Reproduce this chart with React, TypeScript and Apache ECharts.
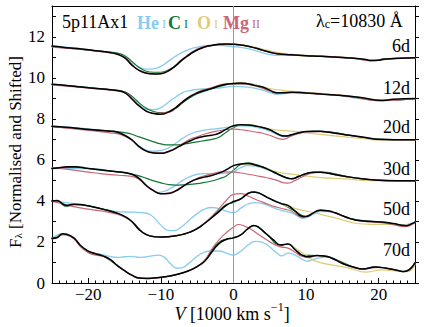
import { useEffect, useRef } from 'react';
import * as echarts from 'echarts';

// ---------- data (velocity in 1000 km/s, normalised & shifted flux) ----------
const epochLabels = ['6d', '12d', '20d', '30d', '50d', '70d'];
const speciesNames = ['He I', 'C I', 'O I', 'Mg II'];

// 6d
const full6 = [[-25,11.55],[-23,11.47],[-21,11.4],[-19,11.32],[-17,11.23],[-16,11.15],[-15,10.98],[-14,10.62],[-13,10.36],[-12,10.23],[-11,10.18],[-10,10.2],[-9,10.33],[-8,10.58],[-7,10.9],[-6,11.15],[-5,11.36],[-4,11.5],[-3,11.58],[-2,11.63],[-1,11.65],[0,11.63],[1,11.6],[2,11.54],[3,11.45],[4,11.35],[5,11.25],[6,11.17],[8,11.12],[10,11.08],[12,11.05],[14,11.01],[16,10.97],[18,10.9],[19,10.84],[20,10.86],[21,10.92],[23,10.95],[25,10.98]];
const he6 = [[-25,11.55],[-17,11.23],[-15,11.0],[-14,10.74],[-13,10.52],[-12,10.42],[-11,10.44],[-10,10.56],[-9,10.8],[-8,11.05],[-7,11.25],[-6,11.4],[-5,11.49],[-4,11.55],[-3,11.58],[-2,11.58],[-1,11.56],[0,11.52],[1,11.48],[2,11.42],[3,11.33],[4,11.22],[5,11.13],[6,11.1],[7,11.1],[8,11.11],[10,11.08],[14,11.01],[18,10.9],[19,10.84],[21,10.92],[25,10.98]];
const c6 = [[-25,11.52],[-17,11.25],[-16,11.2],[-15,11.08],[-14,10.8],[-13,10.5],[-12,10.32],[-11,10.27],[-10,10.27],[-9,10.38],[-8,10.58],[-7,10.88],[-6,11.13],[-5,11.35],[-4,11.5],[-2,11.62],[0,11.63],[2,11.54],[4,11.35],[6,11.18],[10,11.08],[16,10.97],[19,10.85],[21,10.92],[25,10.98]];
const o6 = [[-2,11.63],[0,11.64],[2,11.56],[4,11.4],[6,11.24],[8,11.14],[12,11.06],[16,10.98],[19,10.86],[22,10.94],[25,10.98]];
const mg6 = [[-25,11.5],[-17,11.22],[-15,10.97],[-13,10.36],[-11,10.19],[-9,10.35],[-7,10.92],[-5,11.4],[-3,11.6],[-1,11.66],[1,11.6],[3,11.45],[5,11.25],[7,11.14],[10,11.08],[16,10.97],[19,10.84],[22,10.93],[25,10.97]];

// 12d
const full12 = [[-25,9.69],[-23,9.63],[-21,9.55],[-19,9.48],[-17,9.42],[-16,9.38],[-15,9.28],[-14,8.97],[-13,8.63],[-12,8.38],[-11,8.26],[-10,8.22],[-9,8.33],[-8,8.54],[-7,8.83],[-6,9.08],[-5,9.26],[-4,9.38],[-3,9.48],[-2,9.6],[-1,9.69],[0,9.72],[1,9.75],[2,9.71],[3,9.62],[4,9.55],[5,9.4],[6,9.27],[7,9.27],[8,9.3],[10,9.26],[12,9.21],[14,9.16],[16,9.1],[18,9.02],[19.5,8.92],[20.5,8.9],[22,8.95],[25,8.99]];
const he12 = [[-25,9.69],[-17,9.42],[-15,9.3],[-14,9.02],[-13,8.7],[-12,8.48],[-11,8.45],[-10,8.55],[-9,8.8],[-8,9.05],[-7,9.28],[-6,9.38],[-5,9.43],[-4,9.46],[-2,9.5],[0,9.58],[2,9.55],[4,9.4],[5,9.28],[6,9.2],[7,9.23],[8,9.28],[10,9.26],[14,9.16],[20,8.9],[25,8.99]];
const c12 = [[-25,9.68],[-17,9.42],[-15,9.32],[-14,9.1],[-13,8.78],[-12,8.52],[-11,8.36],[-10,8.3],[-9,8.33],[-8,8.5],[-7,8.78],[-6,9.03],[-5,9.22],[-4,9.35],[-2,9.57],[0,9.7],[2,9.7],[4,9.54],[6,9.28],[8,9.3],[12,9.21],[16,9.1],[20,8.9],[25,8.99]];
const o12 = [[-1,9.69],[1,9.75],[3,9.64],[5,9.48],[7,9.38],[9,9.32],[12,9.24],[16,9.12],[20,8.92],[25,8.99]];
const mg12 = [[-25,9.66],[-21,9.53],[-17,9.4],[-15,9.28],[-13,8.64],[-11,8.27],[-9,8.32],[-7,8.85],[-5,9.3],[-3,9.52],[-1,9.7],[1,9.7],[3,9.6],[5,9.35],[6,9.25],[8,9.28],[12,9.2],[16,9.1],[20,8.88],[25,8.98]];

// 20d
const full20 = [[-25,7.64],[-23,7.59],[-21,7.52],[-19,7.46],[-17,7.4],[-16,7.35],[-15,7.2],[-14,6.98],[-13,6.65],[-12,6.43],[-11,6.34],[-10,6.32],[-9,6.4],[-8,6.55],[-7,6.75],[-6,6.92],[-5,7.07],[-4,7.15],[-3,7.2],[-2,7.3],[-1,7.5],[0,7.66],[1,7.71],[2,7.7],[3,7.65],[4,7.58],[5,7.47],[6,7.28],[7,7.16],[8,7.22],[9,7.32],[10,7.38],[11,7.4],[12,7.39],[14,7.3],[16,7.2],[18,7.1],[20,7.0],[22,6.98],[25,6.98]];
const he20 = [[-25,7.64],[-17,7.4],[-15,7.2],[-14,6.98],[-13,6.68],[-12,6.48],[-11,6.42],[-10,6.46],[-9,6.58],[-8,6.8],[-7,7.05],[-6,7.25],[-5,7.38],[-4,7.45],[-3,7.5],[-2,7.53],[-1,7.58],[0,7.63],[1,7.66],[2,7.65],[3,7.6],[4,7.52],[5,7.4],[6,7.24],[7,7.13],[8,7.2],[9,7.3],[10,7.38],[12,7.39],[16,7.2],[20,7.0],[25,6.98]];
const c20 = [[-25,7.62],[-17,7.4],[-16,7.38],[-15,7.33],[-14,7.25],[-13,7.12],[-12,7.0],[-11,6.88],[-10,6.78],[-9,6.73],[-8,6.73],[-7,6.76],[-6,6.82],[-5,6.88],[-4,6.94],[-3,7.0],[-2,7.1],[-1,7.35],[0,7.57],[1,7.7],[2,7.71],[3,7.66],[4,7.58],[5,7.47],[6,7.28],[7,7.17],[8,7.22],[10,7.38],[12,7.39],[16,7.2],[20,7.0],[25,6.98]];
const o20 = [[0,7.66],[2,7.7],[4,7.58],[5,7.5],[6,7.45],[8,7.4],[10,7.32],[12,7.24],[15,7.13],[18,7.03],[20,6.97],[25,6.97]];
const mg20 = [[-25,7.63],[-23,7.55],[-21,7.47],[-19,7.4],[-17,7.32],[-16,7.28],[-15,7.15],[-14,6.95],[-13,6.63],[-12,6.42],[-11,6.34],[-10,6.34],[-9,6.42],[-8,6.58],[-7,6.8],[-6,7.0],[-5,7.13],[-4,7.25],[-3,7.35],[-2,7.42],[-1,7.48],[0,7.5],[1,7.47],[2,7.42],[3,7.36],[4,7.3],[5,7.2],[6,7.06],[6.8,7.0],[8,7.17],[9,7.28],[10,7.36],[12,7.38],[14,7.29],[16,7.19],[18,7.09],[20,6.99],[25,6.98]];

// 30d
const full30 = [[-25,5.58],[-24,5.62],[-23,5.66],[-22,5.67],[-21,5.64],[-20,5.58],[-18,5.5],[-16,5.42],[-15,5.38],[-14,5.3],[-13,5.1],[-12,4.75],[-11,4.5],[-10,4.35],[-9,4.36],[-8,4.48],[-7,4.7],[-6,4.92],[-5,5.07],[-4,5.16],[-3,5.24],[-2,5.36],[-1,5.52],[0,5.72],[1,5.8],[2,5.82],[3,5.75],[4,5.65],[5,5.5],[6,5.33],[7,5.17],[8,5.08],[9,5.2],[10,5.33],[11,5.4],[12,5.4],[13,5.35],[14,5.28],[16,5.16],[18,5.07],[20,5.01],[22,4.98],[25,4.98]];
const he30 = [[-25,5.58],[-20,5.58],[-16,5.42],[-14,5.3],[-13,5.08],[-12,4.75],[-11,4.5],[-10.5,4.42],[-10,4.43],[-9,4.55],[-8,4.75],[-7,5.0],[-6,5.18],[-5,5.3],[-4,5.33],[-3,5.32],[-2,5.33],[-1,5.35],[0,5.42],[1,5.62],[2,5.72],[3,5.7],[4,5.6],[5,5.47],[6,5.3],[7,5.15],[8,5.08],[9,5.2],[10,5.33],[12,5.4],[16,5.16],[20,5.01],[25,4.98]];
const c30 = [[-25,5.57],[-22,5.65],[-20,5.58],[-16,5.42],[-14,5.31],[-13,5.22],[-12,5.1],[-11,4.98],[-10,4.88],[-9,4.8],[-8,4.77],[-7,4.78],[-6,4.81],[-5,4.84],[-4,4.9],[-3,4.97],[-2,5.08],[-1,5.22],[0,5.5],[1,5.78],[2,5.86],[3,5.78],[4,5.66],[5,5.5],[6,5.33],[7,5.17],[8,5.08],[10,5.33],[12,5.4],[16,5.16],[20,5.01],[25,4.98]];
const o30 = [[1,5.8],[3,5.75],[5,5.52],[6.5,5.38],[8.8,5.27],[11.6,5.15],[15.3,5.07],[19,4.99],[25,4.98]];
const mg30 = [[-25,5.64],[-23,5.55],[-21,5.45],[-19,5.36],[-17,5.28],[-15,5.23],[-14,5.2],[-13,5.05],[-12,4.72],[-11,4.48],[-10,4.35],[-9,4.38],[-8,4.5],[-7,4.72],[-6,4.92],[-5,5.1],[-4,5.22],[-3,5.32],[-2,5.4],[-1,5.42],[0,5.4],[1,5.36],[2,5.3],[3,5.24],[4,5.17],[5,5.1],[6,5.0],[7,4.88],[7.5,4.87],[8.5,5.0],[9.5,5.18],[10.5,5.33],[12,5.39],[14,5.28],[16,5.16],[18,5.07],[20,5.0],[25,4.97]];

// 50d
const full50 = [[-25,4.0],[-24.3,4.02],[-23.5,3.85],[-23,3.78],[-22,3.84],[-21,3.82],[-20,3.76],[-18,3.6],[-16,3.4],[-15,3.25],[-14,3.0],[-13,2.6],[-12,2.36],[-11,2.26],[-10,2.24],[-9,2.26],[-8,2.3],[-7,2.37],[-6,2.48],[-5,2.65],[-4,2.9],[-3,3.18],[-2,3.48],[-1,3.78],[0,3.97],[1,4.1],[2,4.36],[2.7,4.44],[3.5,4.38],[4.5,4.2],[5.5,4.02],[6.5,3.88],[7.5,3.78],[8.5,3.5],[9.3,3.27],[10,3.24],[11,3.42],[12,3.55],[13,3.52],[14,3.42],[15,3.28],[16,3.15],[17.5,3.03],[19,3.0],[20.5,2.97],[22,2.9],[23,2.83],[23.8,2.79],[24.5,2.88],[25,2.97]];
const he50 = [[-25,4.0],[-20,3.76],[-18,3.6],[-16,3.48],[-14,3.45],[-12,3.4],[-11,3.2],[-10,2.82],[-9,2.56],[-8.3,2.55],[-7,2.78],[-6,3.1],[-5,3.38],[-4,3.6],[-3,3.68],[-2,3.62],[-1,3.5],[0,3.43],[1,3.65],[2,3.85],[3,3.92],[4,3.87],[5,3.75],[6,3.6],[7,3.5],[8,3.42],[9,3.22],[9.5,3.15],[10,3.18],[11,3.35],[12,3.48],[13,3.48],[14,3.42],[16,3.14],[18,3.02],[20,2.99],[23,2.83],[25,2.97]];
const c50 = [[-25,4.03],[-24.3,4.0],[-23.5,3.8],[-23,3.74],[-22,3.82],[-20,3.76],[-18,3.6],[-16,3.4],[-14,3.0],[-12,2.36],[-10,2.24],[-8,2.3],[-6,2.48],[-4,2.9],[-3,3.2],[-2,3.52],[-1,3.82],[0,3.93],[1,4.1],[2,4.38],[3,4.43],[4.5,4.2],[6.5,3.88],[8.5,3.5],[10,3.24],[12,3.55],[14,3.42],[16,3.15],[19,3.0],[22,2.9],[23.8,2.79],[25,2.97]];
const o50 = [[7,3.78],[8.8,3.6],[11.6,3.38],[14.8,3.1],[17,2.9],[19,2.86],[22,2.86],[24,2.82],[25,2.95]];
const mg50 = [[-25,3.98],[-24,3.9],[-22,3.72],[-20,3.6],[-18,3.5],[-16,3.35],[-15,3.22],[-14,3.0],[-13,2.6],[-12,2.36],[-11,2.26],[-10,2.24],[-8,2.3],[-6,2.48],[-5,2.66],[-4,2.92],[-3,3.25],[-2,3.62],[-1,4.02],[0,4.32],[1,4.36],[2,4.24],[3,4.08],[4,3.94],[5,3.8],[6,3.69],[7,3.6],[8,3.5],[9,3.26],[9.5,3.19],[10.3,3.3],[11.2,3.46],[12,3.54],[14,3.42],[16,3.13],[18,3.0],[20,2.95],[22,2.84],[23.5,2.75],[25,2.95]];

// 70d
const full70 = [[-25,2.17],[-24.3,2.22],[-23.5,2.4],[-23,2.38],[-22,2.2],[-21,1.8],[-20,1.55],[-19,1.42],[-18,1.32],[-17,1.15],[-16,0.85],[-15,0.6],[-14,0.38],[-13,0.24],[-12,0.22],[-11,0.24],[-10,0.28],[-9,0.33],[-8,0.4],[-7,0.5],[-6,0.62],[-5,0.8],[-4,1.05],[-3,1.5],[-2,1.92],[-1,2.12],[0,2.2],[1,2.35],[2,2.65],[2.8,2.8],[3.5,2.7],[4.5,2.4],[5.5,2.1],[6.5,1.85],[7.5,1.9],[8.5,1.62],[9.5,1.35],[10.3,1.28],[11.5,1.34],[12.5,1.32],[13.5,1.22],[15,0.95],[16.5,0.78],[17.8,0.68],[19.5,0.78],[21,0.72],[22.5,0.62],[23.5,0.56],[24.3,0.68],[25,0.98]];
const he70 = [[-25,2.17],[-23.5,2.4],[-22,2.2],[-21,1.8],[-20,1.55],[-19,1.43],[-18,1.38],[-17,1.3],[-16,1.25],[-15,1.28],[-14,1.3],[-13,1.25],[-12,1.28],[-11,1.33],[-10.3,1.36],[-9.5,1.25],[-8.7,0.95],[-7.8,0.72],[-7,0.75],[-6.3,0.92],[-5,1.3],[-4,1.5],[-3,1.56],[-2,1.56],[-1,1.46],[0,1.36],[1,1.55],[2,1.85],[3,2.03],[4,1.98],[5,1.75],[6,1.45],[6.6,1.32],[7.5,1.46],[8.5,1.36],[9.5,1.15],[10.2,1.06],[11,1.15],[12,1.24],[13,1.26],[14,1.17],[15,0.95],[16.5,0.78],[17.8,0.68],[19.5,0.78],[21,0.72],[23.5,0.56],[25,0.98]];
const c70 = [[-25,2.2],[-24.3,2.22],[-23.5,2.36],[-23,2.34],[-22,2.18],[-21,1.78],[-20,1.55],[-18,1.32],[-16,0.85],[-14,0.38],[-12,0.22],[-10,0.28],[-8,0.4],[-6,0.62],[-4,1.08],[-3,1.58],[-2,1.98],[-1,2.14],[0,2.2],[1,2.35],[2,2.65],[2.8,2.8],[4.5,2.4],[6.5,1.85],[7.5,1.9],[9.5,1.35],[11.5,1.34],[13.5,1.22],[16.5,0.78],[17.8,0.68],[19.5,0.78],[22.5,0.62],[23.5,0.56],[25,0.98]];
const o70 = [[7.5,1.9],[8.5,1.7],[10,1.35],[11.2,1.08],[13.5,0.88],[15.8,0.74],[18.3,0.53],[20.4,0.64],[22.7,0.57],[24,0.55],[25,0.9]];
const mg70 = [[-25,2.15],[-24.3,2.2],[-23.5,2.38],[-23,2.35],[-22,2.15],[-21,1.75],[-20,1.48],[-19,1.36],[-18,1.3],[-17,1.14],[-16,0.85],[-15,0.6],[-14,0.38],[-13,0.24],[-11,0.24],[-9,0.33],[-7,0.5],[-5,0.8],[-4,1.1],[-3,1.65],[-2,2.1],[-1,2.45],[0,2.72],[0.7,2.85],[1.5,2.78],[2.5,2.6],[3.5,2.35],[4.5,2.12],[5.5,1.9],[6.5,1.76],[7.5,1.7],[8.5,1.5],[9.3,1.32],[10.3,1.24],[11.5,1.33],[12.5,1.32],[14,1.12],[16,0.82],[18,0.68],[20,0.76],[22,0.66],[23.5,0.55],[25,0.96]];

const fullSpectra = [full6, full12, full20, full30, full50, full70];
const heSpectra = [he6, he12, he20, he30, he50, he70];
const cSpectra = [c6, c12, c20, c30, c50, c70];
const oSpectra = [o6, o12, o20, o30, o50, o70];
const mgSpectra = [mg6, mg12, mg20, mg30, mg50, mg70];

// ---------- styling ----------
const SERIF = '"Liberation Serif", "Times New Roman", Times, serif';
const COL_HE = '#88CCEE';
const COL_C = '#117733';
const COL_O = '#DDCC77';
const COL_MG = '#CC6677';

function fmtTick(v: number, step: number, maxShown: number, minShown: number) {
  if (Math.abs(v / step - Math.round(v / step)) > 1e-6) return '';
  if (v > maxShown + 1e-6 || v < minShown - 1e-6) return '';
  return v < 0 ? '\u2212' + Math.abs(v) : String(v);
}

function makeLine(name: string, data: number[][], color: string, width: number, z: number) {
  return {
    name,
    type: 'line',
    data,
    showSymbol: false,
    symbol: 'none',
    smooth: 0.5,
    z,
    silent: true,
    lineStyle: { color, width, join: 'round', cap: 'round' },
  };
}

export default function App() {
  const ref = useRef<HTMLDivElement>(null);
  useEffect(() => {
    if (!ref.current) return;
    const chart = echarts.init(ref.current, undefined, { renderer: 'svg' });

    const series: any[] = [];
    // zero-velocity marker
    series.push({
      type: 'line',
      data: [],
      silent: true,
      z: 1,
      markLine: {
        silent: true,
        symbol: ['none', 'none'],
        label: { show: false },
        lineStyle: { color: '#9a9a9a', width: 1, type: 'solid' },
        data: [{ xAxis: 0 }],
      },
    });
    for (let i = 0; i < fullSpectra.length; i++) {
      series.push(makeLine(speciesNames[0] + ' ' + epochLabels[i], heSpectra[i], COL_HE, 1.3, 2));
      series.push(makeLine(speciesNames[1] + ' ' + epochLabels[i], cSpectra[i], COL_C, 1.2, 3));
      series.push(makeLine(speciesNames[2] + ' ' + epochLabels[i], oSpectra[i], COL_O, 1.2, 3));
      series.push(makeLine(speciesNames[3] + ' ' + epochLabels[i], mgSpectra[i], COL_MG, 1.2, 4));
    }
    for (let i = 0; i < fullSpectra.length; i++) {
      series.push(makeLine('full ' + epochLabels[i], fullSpectra[i], '#000000', 1.5, 6));
    }

    const epochY = [45.5, 87.5, 127, 169, 209, 250];
    const graphic: any[] = epochLabels.map((t, i) => ({
      type: 'text',
      x: 410,
      y: epochY[i],
      z: 100,
      style: { text: t, font: `18px ${SERIF}`, fill: '#000', align: 'right', verticalAlign: 'middle' },
    }));

    const titleY = 22;
    graphic.push({
      type: 'text', x: 62, y: titleY, z: 100,
      style: { text: '5p11Ax1', font: `18px ${SERIF}`, fill: '#000', align: 'left', verticalAlign: 'middle' },
    });
    const speciesX = [137, 168, 197, 223];
    const speciesCol = [COL_HE, COL_C, COL_O, COL_MG];
    speciesNames.forEach((nm, i) => {
      const parts = nm.split(' ');
      graphic.push({
        type: 'text', x: speciesX[i], y: titleY, z: 100,
        style: {
          text: `{b|${parts[0]}}{s| ${parts[1]}}`,
          align: 'left', verticalAlign: 'middle',
          rich: {
            b: { font: `bold 18px ${SERIF}`, fill: speciesCol[i], lineHeight: 20, verticalAlign: 'bottom' },
            s: { font: `12px ${SERIF}`, fill: speciesCol[i], lineHeight: 14, verticalAlign: 'bottom', padding: [0, 0, 2, 0] },
          },
        },
      });
    });
    graphic.push({
      type: 'text', x: 316, y: 19, z: 100,
      style: {
        text: '{n|\u03BB}{sub|c}{n|=10830 \u00C5}',
        align: 'left', verticalAlign: 'middle',
        rich: {
          n: { font: `18px ${SERIF}`, fill: '#000', lineHeight: 22, verticalAlign: 'bottom' },
          sub: { font: `12px ${SERIF}`, fill: '#000', lineHeight: 12, verticalAlign: 'bottom' },
        },
      },
    });
    // y axis title
    graphic.push({
      type: 'text', x: 13, y: 152, rotation: Math.PI / 2, z: 100,
      style: {
        text: '{n|F}{sub|\u03BB}{n| [Normalised and Shifted]}',
        align: 'center', verticalAlign: 'middle',
        rich: {
          n: { font: `17px ${SERIF}`, fill: '#000', lineHeight: 21, verticalAlign: 'bottom' },
          sub: { font: `11px ${SERIF}`, fill: '#000', lineHeight: 11, verticalAlign: 'bottom' },
        },
      },
    });
    // x axis title
    graphic.push({
      type: 'text', x: 232, y: 312, z: 100,
      style: {
        text: '{i|V}{n| [1000 km s}{sup|\u22121}{n|]}',
        align: 'center', verticalAlign: 'middle',
        rich: {
          i: { font: `italic 18px ${SERIF}`, fill: '#000', lineHeight: 22, verticalAlign: 'bottom' },
          n: { font: `18px ${SERIF}`, fill: '#000', lineHeight: 22, verticalAlign: 'bottom' },
          sup: { font: `12px ${SERIF}`, fill: '#000', lineHeight: 12, verticalAlign: 'top' },
        },
      },
    });

    const axisLineStyle = { color: '#000', width: 1 };
    chart.setOption({
      animation: false,
      backgroundColor: '#ffffff',
      grid: { left: 52, right: 21, top: 6, bottom: 44, containLabel: false },
      xAxis: [
        {
          type: 'value', min: -25, max: 25, splitNumber: 5, position: 'bottom',
          axisLine: { show: true, onZero: false, lineStyle: axisLineStyle },
          axisTick: { show: true, inside: true, length: 5, lineStyle: axisLineStyle },
          minorTick: { show: true, splitNumber: 10, length: 2.5, lineStyle: axisLineStyle },
          splitLine: { show: false },
          axisLabel: {
            color: '#000', fontFamily: SERIF, fontSize: 17, margin: 3,
            formatter: (v: number) => fmtTick(v, 10, 20, -20),
          },
        },
        {
          type: 'value', min: -25, max: 25, position: 'top',
          axisLine: { show: true, onZero: false, lineStyle: axisLineStyle },
          axisTick: { show: false }, axisLabel: { show: false }, splitLine: { show: false },
        },
      ],
      yAxis: [
        {
          type: 'value', min: 0, max: 13.5, interval: 2, position: 'left',
          axisLine: { show: true, onZero: false, lineStyle: axisLineStyle },
          axisTick: { show: true, inside: true, length: 4, lineStyle: axisLineStyle },
          minorTick: { show: true, splitNumber: 2, length: 4, lineStyle: axisLineStyle },
          splitLine: { show: false },
          axisLabel: {
            color: '#000', fontFamily: SERIF, fontSize: 17, margin: 7,
            formatter: (v: number) => fmtTick(v, 2, 12, 0),
          },
        },
        {
          type: 'value', min: 0, max: 13.5, interval: 1, position: 'right',
          axisLine: { show: true, onZero: false, lineStyle: axisLineStyle },
          axisTick: { show: true, inside: false, length: 4, lineStyle: axisLineStyle },
          axisLabel: { show: false }, splitLine: { show: false },
        },
      ],
      series,
      graphic,
    });
    return () => chart.dispose();
  }, []);
  return (
    <div
      ref={ref}
      style={{ position: 'fixed', left: 0, top: 0, width: 436, height: 327, background: '#fff' }}
    />
  );
}
